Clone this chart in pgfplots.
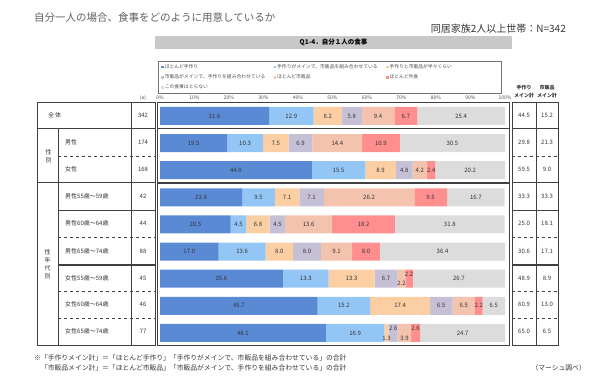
\documentclass[border=0pt]{standalone}
\usepackage{pgfplots}
\pgfplotsset{compat=1.18}
\usepackage{pgfplotstable}
\usepackage{fontspec}
\setmainfont{Noto Sans CJK JP}
\definecolor{c1}{HTML}{5B8AD4}
\definecolor{c2}{HTML}{93C6F5}
\definecolor{c3}{HTML}{FBCFA3}
\definecolor{c4}{HTML}{C6C0D6}
\definecolor{c5}{HTML}{F4C3AD}
\definecolor{c6}{HTML}{FF8F8F}
\definecolor{c7}{HTML}{DCDCDC}
\definecolor{linec}{HTML}{404040}
\definecolor{titlec}{HTML}{606060}
\definecolor{bannerc}{HTML}{C8C8C8}
\definecolor{labc}{HTML}{333333}

% row: 0 = overall ... 8 = female 65-74 ; dc..df = vertical label offsets
\pgfplotstableread{
row a b c d e f g dc dd de df
0 31.6 12.9 8.2 5.8 9.4 6.7 25.4 0 0 0 0
1 19.5 10.3 7.5 6.9 14.4 10.9 30.5 0 0 0 0
2 44.0 15.5 8.9 4.8 4.2 2.4 20.2 0 0 0 0
3 23.8 9.5 7.1 7.1 26.2 9.5 16.7 0 0 0 0
4 20.5 4.5 6.8 4.5 13.6 18.2 31.8 0 0 0 0
5 17.0 13.6 8.0 8.0 9.1 8.0 36.4 0 0 0 0
6 35.6 13.3 13.3 6.7 2.2 2.2 26.7 0 0 -5 4.5
7 45.7 15.2 17.4 6.5 6.5 2.2 6.5 0 0 0 0
8 48.1 16.9 1.3 2.6 3.9 2.6 24.7 -5 4.5 -5 4.5
}\datatable

\pgfplotsset{
  base/.style={
    at={(160pt,-102.4pt)}, anchor=north west,
    scale only axis, width=345pt, height=244.1pt,
    xmin=0, xmax=100, ymin=-0.5, ymax=8.5, y dir=reverse,
  },
  lab/.style={only marks, mark=none, point meta=explicit symbolic, nodes near coords,
    every node near coord/.append style={anchor=center, font=\fontsize{6}{7}\selectfont, text=labc, inner sep=0pt}},
}

\begin{document}
\begin{tikzpicture}[x=1pt,y=1pt]
\begin{axis}[
  base,
  xbar stacked, bar width=18pt,
  axis line style={draw=none}, major tick length=0pt,
  ytick=\empty,
  xtick={0,10,...,100},
  xticklabel pos=upper,
  /pgf/number format/assume math mode=true,
  xticklabel={\pgfmathprintnumber{\tick}\%},
  xticklabel style={font=\fontsize{5}{6}\selectfont, text=black!70, yshift=-0.5pt},
  legend image code/.code={\fill[#1] (0pt,-1.4pt) rectangle (2.8pt,1.4pt);},
  legend columns=3,
  legend cell align=left,
  legend style={
    at={(axis description cs:-0.006,1.17)}, anchor=north west,
    draw=black!55, line width=0.5pt,
    font=\fontsize{4.8}{5.5}\selectfont, text=black!70,
    inner xsep=3pt, inner ysep=2.2pt,
    row sep=3pt,
    nodes={text width=108pt, inner sep=0.8pt},
  },
]
\addplot[fill=c1, draw=none] table[x=a, y=row] {\datatable};
\addplot[fill=c2, draw=none] table[x=b, y=row] {\datatable};
\addplot[fill=c3, draw=none] table[x=c, y=row] {\datatable};
\addplot[fill=c4, draw=none] table[x=d, y=row] {\datatable};
\addplot[fill=c5, draw=none] table[x=e, y=row] {\datatable};
\addplot[fill=c6, draw=none] table[x=f, y=row] {\datatable};
\addplot[fill=c7, draw=none] table[x=g, y=row] {\datatable};
\legend{ほとんど手作り, 手作りがメインで、市販品を組み合わせている, 手作りと市販品が半々くらい, 市販品がメインで、手作りを組み合わせている, ほとんど市販品, ほとんど外食, この食事はとらない}
\end{axis}

% value labels, centred in each segment
\begin{axis}[base, hide axis]
\addplot[lab] table[x expr={\thisrow{a}/2}, y=row, meta=a] {\datatable};
\addplot[lab] table[x expr={\thisrow{a}+\thisrow{b}/2}, y=row, meta=b] {\datatable};
\addplot[lab, visualization depends on={\thisrow{dc} \as \dy}, every node near coord/.append style={yshift=\dy pt}]
  table[x expr={\thisrow{a}+\thisrow{b}+\thisrow{c}/2}, y=row, meta=c] {\datatable};
\addplot[lab, visualization depends on={\thisrow{dd} \as \dy}, every node near coord/.append style={yshift=\dy pt}]
  table[x expr={\thisrow{a}+\thisrow{b}+\thisrow{c}+\thisrow{d}/2}, y=row, meta=d] {\datatable};
\addplot[lab, visualization depends on={\thisrow{de} \as \dy}, every node near coord/.append style={yshift=\dy pt}]
  table[x expr={\thisrow{a}+\thisrow{b}+\thisrow{c}+\thisrow{d}+\thisrow{e}/2}, y=row, meta=e] {\datatable};
\addplot[lab, visualization depends on={\thisrow{df} \as \dy}, every node near coord/.append style={yshift=\dy pt}]
  table[x expr={\thisrow{a}+\thisrow{b}+\thisrow{c}+\thisrow{d}+\thisrow{e}+\thisrow{f}/2}, y=row, meta=f] {\datatable};
\addplot[lab] table[x expr={\thisrow{a}+\thisrow{b}+\thisrow{c}+\thisrow{d}+\thisrow{e}+\thisrow{f}+\thisrow{g}/2}, y=row, meta=g] {\datatable};
\end{axis}

\begin{scope}[yscale=-1]
\path[use as bounding box] (0,0) rectangle (600,384);
% titles
\node[anchor=west, font=\fontsize{10.5}{12}\selectfont, text=titlec, inner sep=0] at (34,18) {自分一人の場合、食事をどのように用意しているか};
\node[anchor=east, font=\fontsize{10}{12}\selectfont, text=black!80, inner sep=0] at (566,29) {同居家族2人以上世帯：N=342};
\fill[bannerc] (155,36) rectangle (512,49);
\node[font=\bfseries\fontsize{6.5}{7}\selectfont, inner sep=0] at (333.5,42.5) {Q1-4．自分１人の食事};

% left table
\begin{scope}[linec, line width=0.7pt]
\draw (37,102) rectangle (155,345);
\draw (131,102) -- (131,345);
\draw (58,128) -- (58,345);
\draw (37,128) -- (155,128);
\draw[line width=1.1pt] (37,182.5) -- (155,182.5);
\draw (58,210) -- (155,210);
\draw[line width=1.1pt] (58,265) -- (155,265);
\draw[dashed, line width=0.5pt] (58,156) -- (155,156);
\draw[dashed, line width=0.5pt] (58,237) -- (155,237);
\draw[dashed, line width=0.5pt] (58,291) -- (155,291);
\draw[dashed, line width=0.5pt] (58,318) -- (155,318);
% bar boxes
\draw (157.5,102) rectangle (509.5,128);
\draw (157.5,128) rectangle (509.5,182.5);
\draw (157.5,183.5) rectangle (509.5,345);
% right table
\draw (512,102) rectangle (558,345);
\draw (536,102) -- (536,345);
\draw (512,128) -- (558,128);
\draw[line width=1.1pt] (512,182.5) -- (558,182.5);
\draw (512,210) -- (558,210);
\draw[line width=1.1pt] (512,265) -- (558,265);
\draw[dashed, line width=0.5pt] (512,156) -- (558,156);
\draw[dashed, line width=0.5pt] (512,237) -- (558,237);
\draw[dashed, line width=0.5pt] (512,291) -- (558,291);
\draw[dashed, line width=0.5pt] (512,318) -- (558,318);
\end{scope}

\begin{scope}[every node/.style={font=\fontsize{6}{7}\selectfont, text=labc, inner sep=0}]
\node[font=\fontsize{4.5}{5}\selectfont] at (143,98) {(n)};
\node[font=\bfseries\fontsize{5}{6}\selectfont] at (524,88) {手作り};
\node[font=\bfseries\fontsize{5}{6}\selectfont] at (524,96) {メイン計};
\node[font=\bfseries\fontsize{5}{6}\selectfont] at (547,88) {市販品};
\node[font=\bfseries\fontsize{5}{6}\selectfont] at (547,96) {メイン計};

\node[anchor=west] at (48,115) {全\,体};
\node[align=center, font=\fontsize{6}{8}\selectfont] at (48.5,156) {性\\別};
\node[align=center, font=\fontsize{6}{8}\selectfont] at (47.5,264) {性\\年\\代\\別};
\node[anchor=west] at (65,142.5) {男性};
\node[anchor=west] at (65,169.5) {女性};
\node[anchor=west] at (65,196.5) {男性55歳～59歳};
\node[anchor=west] at (65,223.5) {男性60歳～64歳};
\node[anchor=west] at (65,251) {男性65歳～74歳};
\node[anchor=west] at (65,278) {女性55歳～59歳};
\node[anchor=west] at (65,304.5) {女性60歳～64歳};
\node[anchor=west] at (65,331.5) {女性65歳～74歳};

\node at (143,115) {342};
\node at (143,142.5) {174};
\node at (143,169.5) {168};
\node at (143,196.5) {42};
\node at (143,223.5) {44};
\node at (143,251) {88};
\node at (143,278) {45};
\node at (143,304.5) {46};
\node at (143,331.5) {77};

\node at (524,115) {44.5}; \node at (547,115) {15.2};
\node at (524,142.5) {29.8}; \node at (547,142.5) {21.3};
\node at (524,169.5) {59.5}; \node at (547,169.5) {9.0};
\node at (524,196.5) {33.3}; \node at (547,196.5) {33.3};
\node at (524,223.5) {25.0}; \node at (547,223.5) {18.1};
\node at (524,251) {30.6}; \node at (547,251) {17.1};
\node at (524,278) {48.9}; \node at (547,278) {8.9};
\node at (524,304.5) {60.9}; \node at (547,304.5) {13.0};
\node at (524,331.5) {65.0}; \node at (547,331.5) {6.5};

\node[anchor=west, font=\fontsize{6.8}{8}\selectfont] at (34,358) {※「手作りメイン計」＝「ほとんど手作り」「手作りがメインで、市販品を組み合わせている」の合計};
\node[anchor=west, font=\fontsize{6.8}{8}\selectfont] at (40.8,368) {「市販品メイン計」＝「ほとんど市販品」「市販品がメインで、手作りを組み合わせている」の合計};
\node[anchor=east, font=\fontsize{6.8}{8}\selectfont] at (586,368) {（マーシュ調べ）};
\end{scope}
\end{scope}
\end{tikzpicture}
\end{document}
